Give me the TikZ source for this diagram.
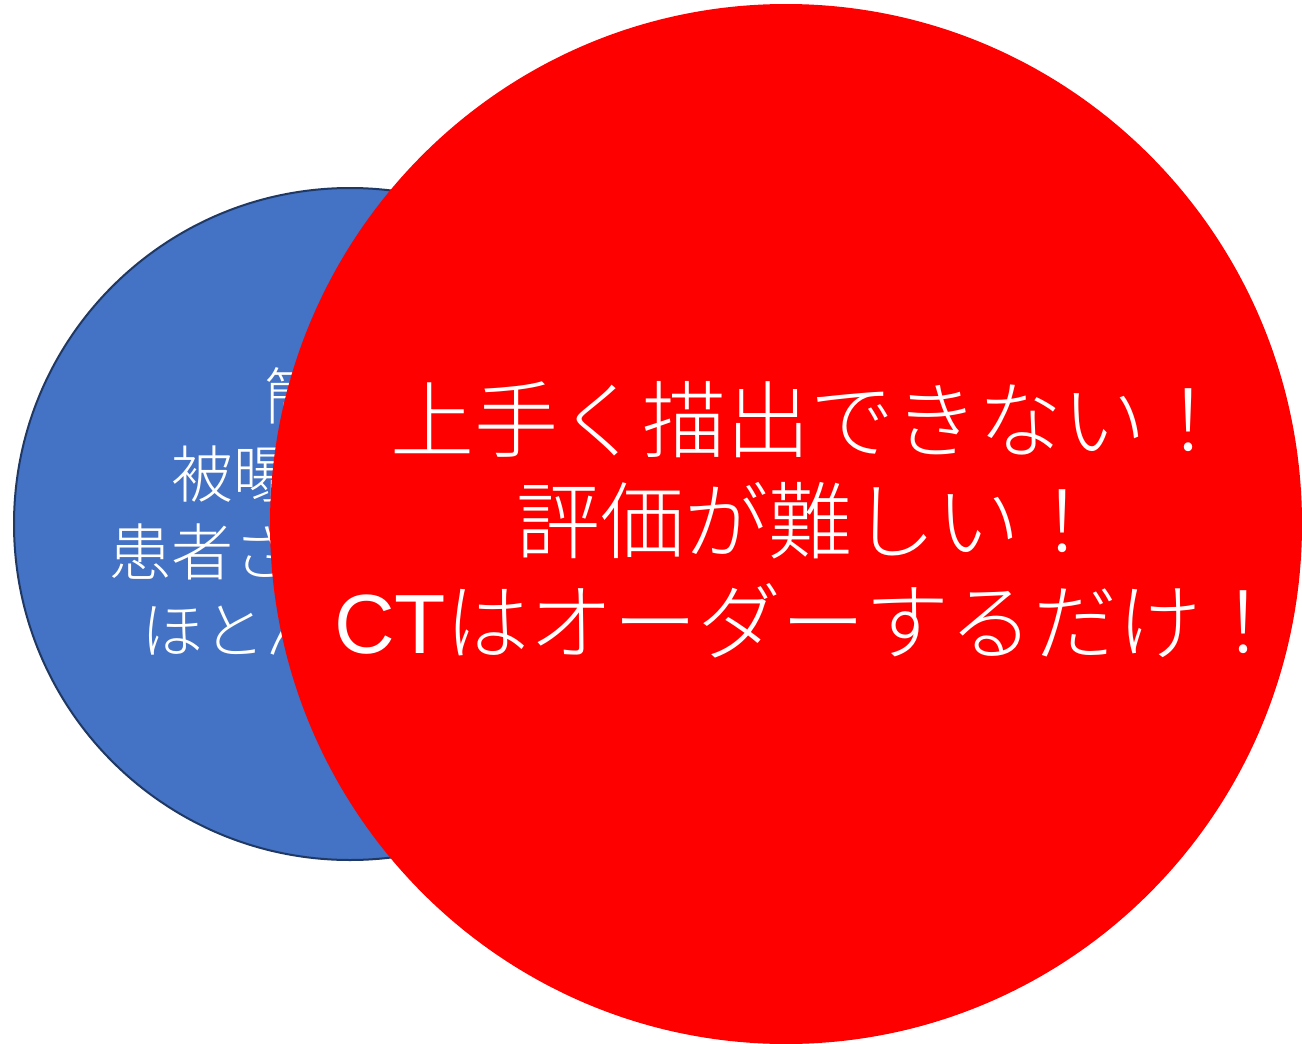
\documentclass[tikz,border=0pt]{standalone}
\usepackage{fontspec}
\newfontfamily\jpfont{Noto Sans CJK JP}[UprightFont=* Light]
\newfontfamily\ctfont{Liberation Sans}
\definecolor{bluefill}{HTML}{4472C4}
\definecolor{blueline}{HTML}{1F3864}
\definecolor{redfill}{HTML}{FF0000}
\begin{document}
\begin{tikzpicture}[x=1pt,y=-1pt,
  bluecirc/.style={fill=bluefill,draw=blueline,line width=2pt},
  redcirc/.style={fill=redfill,draw=none},
  whitetext/.style={text=white,align=center,inner sep=0pt}]
\useasboundingbox (0,0) rectangle (1302,1044);
\fill[white] (0,0) rectangle (1302,1044);
\draw[bluecirc] (350,524) circle[radius=336];
\node[whitetext,font=\jpfont\fontsize{62}{78}\selectfont] (bluetext) at (357,512)
  {簡便！\\被曝が少ない\\患者さんの負担が\\ほとんどない！};
\fill[redcirc] (786,524) ellipse[x radius=516,y radius=520];
\node[whitetext,font=\jpfont\fontsize{84}{101}\selectfont] (redtext) at (810,520)
  {上手く描出できない！\\評価が難しい！\\{\ctfont CT}はオーダーするだけ！};
\end{tikzpicture}
\end{document}
